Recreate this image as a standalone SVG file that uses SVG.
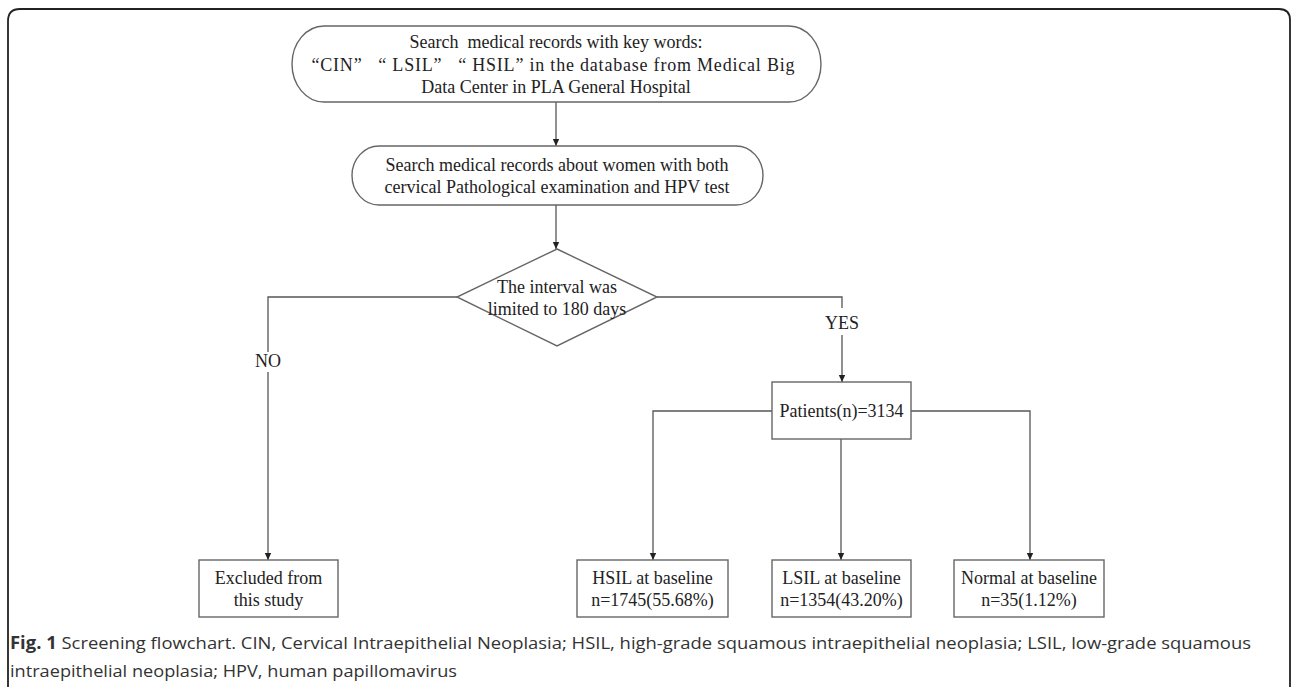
<svg xmlns="http://www.w3.org/2000/svg" width="1292" height="687" viewBox="0 0 1292 687">
<defs>
<marker id="arr" markerWidth="8" markerHeight="8" refX="7" refY="4" orient="auto" markerUnits="userSpaceOnUse">
<path d="M0,0.8 L7,4 L0,7.2 Z" fill="#222"/>
</marker>
<style>
.shape{fill:#fff;stroke:#666;stroke-width:1.4}
.t{font-family:"Liberation Serif","Times New Roman",serif;font-size:18px;fill:#222;text-anchor:middle}
.c{fill:none;stroke:#555;stroke-width:1.3}
.cap{font-family:"Open Sans","Noto Sans",sans-serif;font-size:17px;fill:#333}
</style>
</defs>
<rect width="1292" height="687" fill="#fff"/>
<path d="M8,690 V21 Q8,9 20,9 H1279 Q1290,9 1290,20 V690" fill="none" stroke="#222" stroke-width="1.8"/>

<g id="connectors">
<line class="c" x1="556" y1="102" x2="556" y2="146" marker-end="url(#arr)"/>
<line class="c" x1="556" y1="205" x2="556" y2="249" marker-end="url(#arr)"/>
<polyline class="c" points="457,297 268,297 268,352"/>
<line class="c" x1="268" y1="372" x2="268" y2="560" marker-end="url(#arr)"/>
<polyline class="c" points="657,297 842,297 842,308"/>
<line class="c" x1="842" y1="335" x2="842" y2="382" marker-end="url(#arr)"/>
<polyline class="c" points="772,411 653,411 653,560" marker-end="url(#arr)"/>
<line class="c" x1="841" y1="439" x2="841" y2="560" marker-end="url(#arr)"/>
<polyline class="c" points="911,411 1030,411 1030,560" marker-end="url(#arr)"/>
<text class="t" x="268" y="367">NO</text>
<text class="t" x="842" y="329">YES</text>
</g>

<g id="search1">
<rect class="shape" x="292" y="26" width="529" height="76" rx="32" ry="38"/>
<text class="t" x="556" y="48" xml:space="preserve">Search  medical records with key words:</text>
<text class="t" x="553" y="71" textLength="483" lengthAdjust="spacing" xml:space="preserve">“CIN”   “ LSIL”   “ HSIL” in the database from Medical Big</text>
<text class="t" x="556" y="93">Data Center in PLA General Hospital</text>
</g>

<g id="search2">
<rect class="shape" x="352" y="146" width="411" height="59" rx="27" ry="29.5"/>
<text class="t" x="557" y="171">Search medical records about women with both</text>
<text class="t" x="557" y="193">cervical Pathological examination and HPV test</text>
</g>

<g id="decision">
<polygon class="shape" points="557,249 657,297 557,346 457,297"/>
<text class="t" x="557" y="293">The interval was</text>
<text class="t" x="557" y="315">limited to 180 days</text>
</g>

<g id="patients">
<rect class="shape" x="772" y="382" width="139" height="57"/>
<text class="t" x="841.5" y="417">Patients(n)=3134</text>
</g>

<g id="excluded">
<rect class="shape" x="199" y="560" width="139" height="57"/>
<text class="t" x="268.5" y="584">Excluded from</text>
<text class="t" x="268.5" y="606">this study</text>
</g>

<g id="hsil">
<rect class="shape" x="577" y="560" width="151" height="57"/>
<text class="t" x="652.5" y="584">HSIL at baseline</text>
<text class="t" x="652.5" y="606">n=1745(55.68%)</text>
</g>

<g id="lsil">
<rect class="shape" x="772" y="560" width="139" height="57"/>
<text class="t" x="841.5" y="584">LSIL at baseline</text>
<text class="t" x="841.5" y="606">n=1354(43.20%)</text>
</g>

<g id="normal">
<rect class="shape" x="954" y="560" width="150" height="57"/>
<text class="t" x="1029" y="584">Normal at baseline</text>
<text class="t" x="1029" y="606">n=35(1.12%)</text>
</g>

<g id="caption">
<text class="cap" x="10" y="649" textLength="1241" lengthAdjust="spacingAndGlyphs"><tspan font-weight="bold">Fig. 1</tspan> Screening flowchart. CIN, Cervical Intraepithelial Neoplasia; HSIL, high-grade squamous intraepithelial neoplasia; LSIL, low-grade squamous</text>
<text class="cap" x="10" y="677" textLength="447" lengthAdjust="spacingAndGlyphs">intraepithelial neoplasia; HPV, human papillomavirus</text>
</g>
</svg>
